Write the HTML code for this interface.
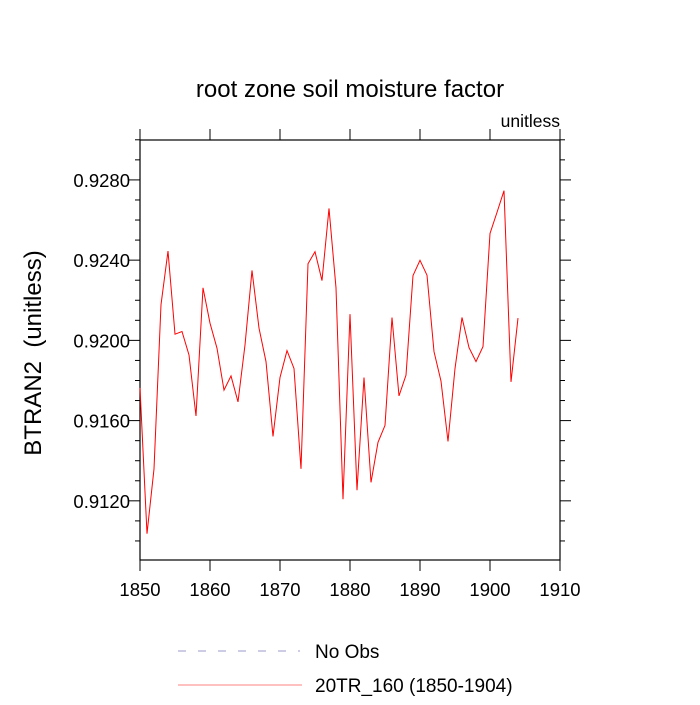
<!DOCTYPE html>
<html><head><meta charset="utf-8"><style>
body{margin:0;background:#fff}
svg text{font-family:"Liberation Sans",sans-serif;fill:#000}
</style></head><body>
<svg id="c" width="700" height="700">
<text x="350" y="97" font-size="24" text-anchor="middle">root zone soil moisture factor</text>
<text x="560" y="127" font-size="17.5" text-anchor="end">unitless</text>
<text transform="translate(41,353) rotate(-90)" font-size="24" text-anchor="middle">BTRAN2&#160;&#160;(unitless)</text>
<rect x="140" y="140" width="420" height="420" fill="none" stroke="#000" stroke-width="1.2"/>
<g id="ticks"></g>
<path id="series" fill="none" stroke="#ff0000" stroke-width="1"/>
<line x1="178" y1="651" x2="300" y2="651" stroke="#9a9ac8" stroke-dasharray="8,12"/>
<text x="315" y="658" font-size="19">No Obs</text>
<line x1="178" y1="685" x2="302" y2="685" stroke="#ff8080"/>
<text x="315" y="692" font-size="19">20TR_160 (1850-1904)</text>
</svg>
<script>
const years=[];for(let y=1850;y<=1904;y++)years.push(y);
const values=[0.91763,0.91036,0.91359,0.92178,0.92445,0.92031,0.92044,0.91927,0.91623,0.92262,
0.92086,0.91961,0.91752,0.91823,0.91693,0.91977,0.92349,0.92061,0.91894,0.91521,
0.91815,0.91949,0.91860,0.91359,0.92382,0.92442,0.92298,0.92658,0.92262,0.91208,
0.92131,0.91253,0.91815,0.91292,0.91492,0.91576,0.92114,0.91723,0.91827,0.92323,
0.92399,0.92325,0.91944,0.91797,0.91496,0.91860,0.92114,0.91964,0.91894,0.91969,
0.92533,0.92638,0.92746,0.91793,0.92111];
const xTicks=[1850,1860,1870,1880,1890,1900,1910];
const yTicks=[0.912,0.916,0.920,0.924,0.928];
const yTickLabels=["0.9120","0.9160","0.9200","0.9240","0.9280"];
const xMin=1850,xMax=1910,yMin=0.90905,yMax=0.92999;
const X=v=>140+(v-xMin)/(xMax-xMin)*420;
const Y=v=>560-(v-yMin)/(yMax-yMin)*420;
const NS="http://www.w3.org/2000/svg";
const g=document.getElementById('ticks');
function ln(x1,y1,x2,y2,name){const l=document.createElementNS(NS,'line');
l.setAttribute('x1',x1);l.setAttribute('y1',y1);l.setAttribute('x2',x2);l.setAttribute('y2',y2);
l.setAttribute('stroke','#000');l.setAttribute('stroke-width','1');


g.appendChild(l);}
function tx(x,y,s,anchor,name){const t=document.createElementNS(NS,'text');
t.setAttribute('x',x);t.setAttribute('y',y);t.setAttribute('font-size','18.5');t.setAttribute('text-anchor',anchor);t.textContent=s;


g.appendChild(t);}
xTicks.forEach(v=>{const x=X(v);ln(x,560,x,571,'x-tick');ln(x,140,x,129,'x-tick-top');tx(x,596,String(v),'middle','x-tick-label');});
for(let k=909;k<=930;k++){const v=k/1000;const y=Y(v);if(y<139||y>561)continue;
 const major=yTicks.some(t=>Math.abs(t-v)<1e-6);const L=major?11:5;
 ln(140,y,140-L,y,'y-tick');ln(560,y,560+L,y,'y-tick-right');}
yTicks.forEach((v,i)=>tx(130,Y(v)+7,yTickLabels[i],'end','y-tick-label'));
document.getElementById('series').setAttribute('d',values.map((v,i)=>(i?'L':'M')+X(years[i]).toFixed(1)+','+Y(v).toFixed(1)).join(''));
</script>
</body></html>
